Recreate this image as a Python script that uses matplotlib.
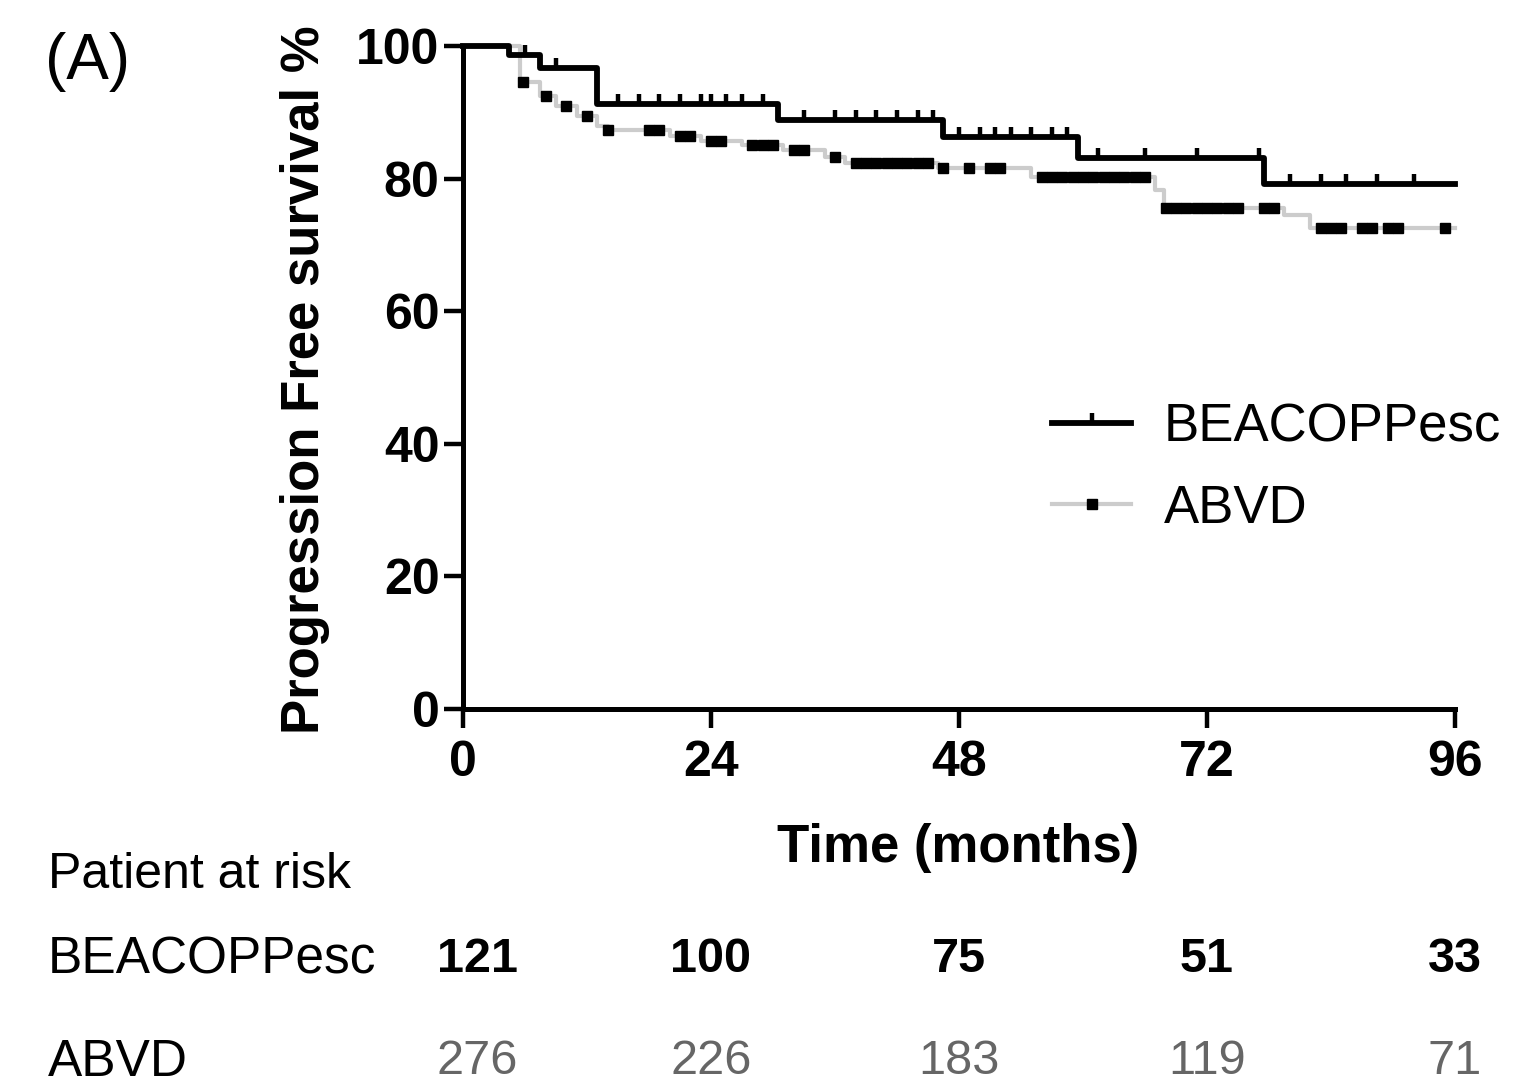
import numpy as np
import matplotlib
matplotlib.use("Agg")
import matplotlib.pyplot as plt
from matplotlib.path import Path
from matplotlib.lines import Line2D
import matplotlib.transforms as mtransforms

plt.rcParams['font.family'] = ['Liberation Sans', 'DejaVu Sans']

# Kaplan-Meier steps (months, % progression free)
beacopp_t = [0, 4.5, 7.5, 13, 30.5, 46.5, 59.5, 77.5, 96]
beacopp_s = [100, 98.6, 96.7, 91.2, 88.8, 86.3, 83.1, 79.2, 79.2]
beacopp_censor = [6, 9, 15, 17, 19, 21, 23, 24, 25.5, 27, 29, 33, 36, 38, 40, 42,
                  44, 45.5, 48, 50, 51.5, 53, 55, 57, 58.5, 61.5, 66, 71, 77,
                  80, 83, 85.5, 88.5, 92]

abvd_t = [0, 5.5, 7.5, 9, 11, 13, 14, 20, 23, 27, 31, 35, 37, 46, 55, 67, 67.8, 79.5, 82, 96]
abvd_s = [100, 94.5, 92.5, 91, 89.5, 88, 87.3, 86.5, 85.7, 85.0, 84.3, 83.3, 82.3,
          81.6, 80.2, 78.3, 75.6, 74.5, 72.6, 72.6]
abvd_censor = [5.8, 8, 10, 12, 14, 18, 19, 21, 22, 24, 25, 28, 29, 30, 32, 33, 36,
               38, 39, 40, 41, 42, 43, 44, 45, 46.5, 49, 51, 52, 56, 57, 58, 59,
               60, 61, 62, 63, 64, 65, 66, 68, 69, 70, 71, 72, 73, 74, 75, 77.5,
               78.5, 83, 84, 85, 87, 88, 89.5, 90.5, 95]

time_ticks = [0, 24, 48, 72, 96]
risk_beacopp = [121, 100, 75, 51, 33]
risk_abvd = [276, 226, 183, 119, 71]


def step_value(times, surv, x):
    idx = np.searchsorted(times, x, side='right') - 1
    return np.array(surv)[idx]


fig = plt.figure(figsize=(15.2, 10.86), dpi=100)
ax = fig.add_axes([463 / 1520, 1 - 709 / 1086, 992 / 1520, 663 / 1086])

tick_up = Path([(0, 0), (0, 1)], [Path.MOVETO, Path.LINETO])

ax.plot(abvd_t, abvd_s, drawstyle='steps-post', color='#cccccc', lw=3,
        clip_on=False, zorder=2)
ax.plot(abvd_censor, step_value(abvd_t, abvd_s, abvd_censor), ls='none',
        marker='s', ms=6.5, color='black', clip_on=False, zorder=3)

ax.plot(beacopp_t, beacopp_s, drawstyle='steps-post', color='black', lw=4.2,
        clip_on=False, zorder=4)
ax.plot(beacopp_censor, step_value(beacopp_t, beacopp_s, beacopp_censor), ls='none',
        marker=tick_up, ms=14, mew=3.2, color='black', clip_on=False, zorder=4)

ax.set_xlim(0, 96)
ax.set_ylim(0, 100)
ax.set_xticks(time_ticks)
ax.set_yticks([0, 20, 40, 60, 80, 100])
for side in ['top', 'right']:
    ax.spines[side].set_visible(False)
for side in ['left', 'bottom']:
    ax.spines[side].set_linewidth(3.6)
ax.tick_params(direction='out', length=14, width=3.2, labelsize=36)
ax.tick_params(axis='x', pad=8)
ax.tick_params(axis='y', pad=3)
for lab in ax.get_xticklabels() + ax.get_yticklabels():
    lab.set_fontweight('bold')

fig.text(305 / 1520, 1 - 380 / 1086, 'Progression Free survival %', rotation=90,
         ha='center', va='center', fontsize=38, fontweight='bold')
fig.text(958 / 1520, 1 - 848 / 1086, 'Time (months)', ha='center', va='center',
         fontsize=38, fontweight='bold')
fig.text(45 / 1520, 1 - 62 / 1086, '(A)', ha='left', va='center', fontsize=46)

handles = [
    Line2D([], [], color='black', lw=4.2, marker=tick_up, ms=14, mew=3.2),
    Line2D([], [], color='#cccccc', lw=3, marker='s', ms=6.5, mfc='black', mec='black'),
]
fig.legend(handles, ['BEACOPPesc', 'ABVD'], loc='center left',
           bbox_to_anchor=(1052 / 1520, 1 - 468 / 1086), frameon=False,
           fontsize=38, handlelength=1.5, handletextpad=0.62, labelspacing=0.6,
           borderpad=0, borderaxespad=0)

# risk table
fig.text(48 / 1520, 1 - 875 / 1086, 'Patient at risk', ha='left', va='center', fontsize=36)
fig.text(48 / 1520, 1 - 960 / 1086, 'BEACOPPesc', ha='left', va='center', fontsize=37)
fig.text(48 / 1520, 1 - 1062 / 1086, 'ABVD', ha='left', va='center', fontsize=37)
trans = mtransforms.blended_transform_factory(ax.transData, fig.transFigure)
for t, n in zip(time_ticks, risk_beacopp):
    ax.text(t + 1.4 * (t == 0), 1 - 960 / 1086, str(n), transform=trans, ha='center',
            va='center', fontsize=35, fontweight='bold', clip_on=False)
for t, n in zip(time_ticks, risk_abvd):
    ax.text(t + 1.4 * (t == 0), 1 - 1062 / 1086, str(n), transform=trans, ha='center',
            va='center', fontsize=35, color='#666666', clip_on=False)

fig.savefig('out.png', dpi=100)
